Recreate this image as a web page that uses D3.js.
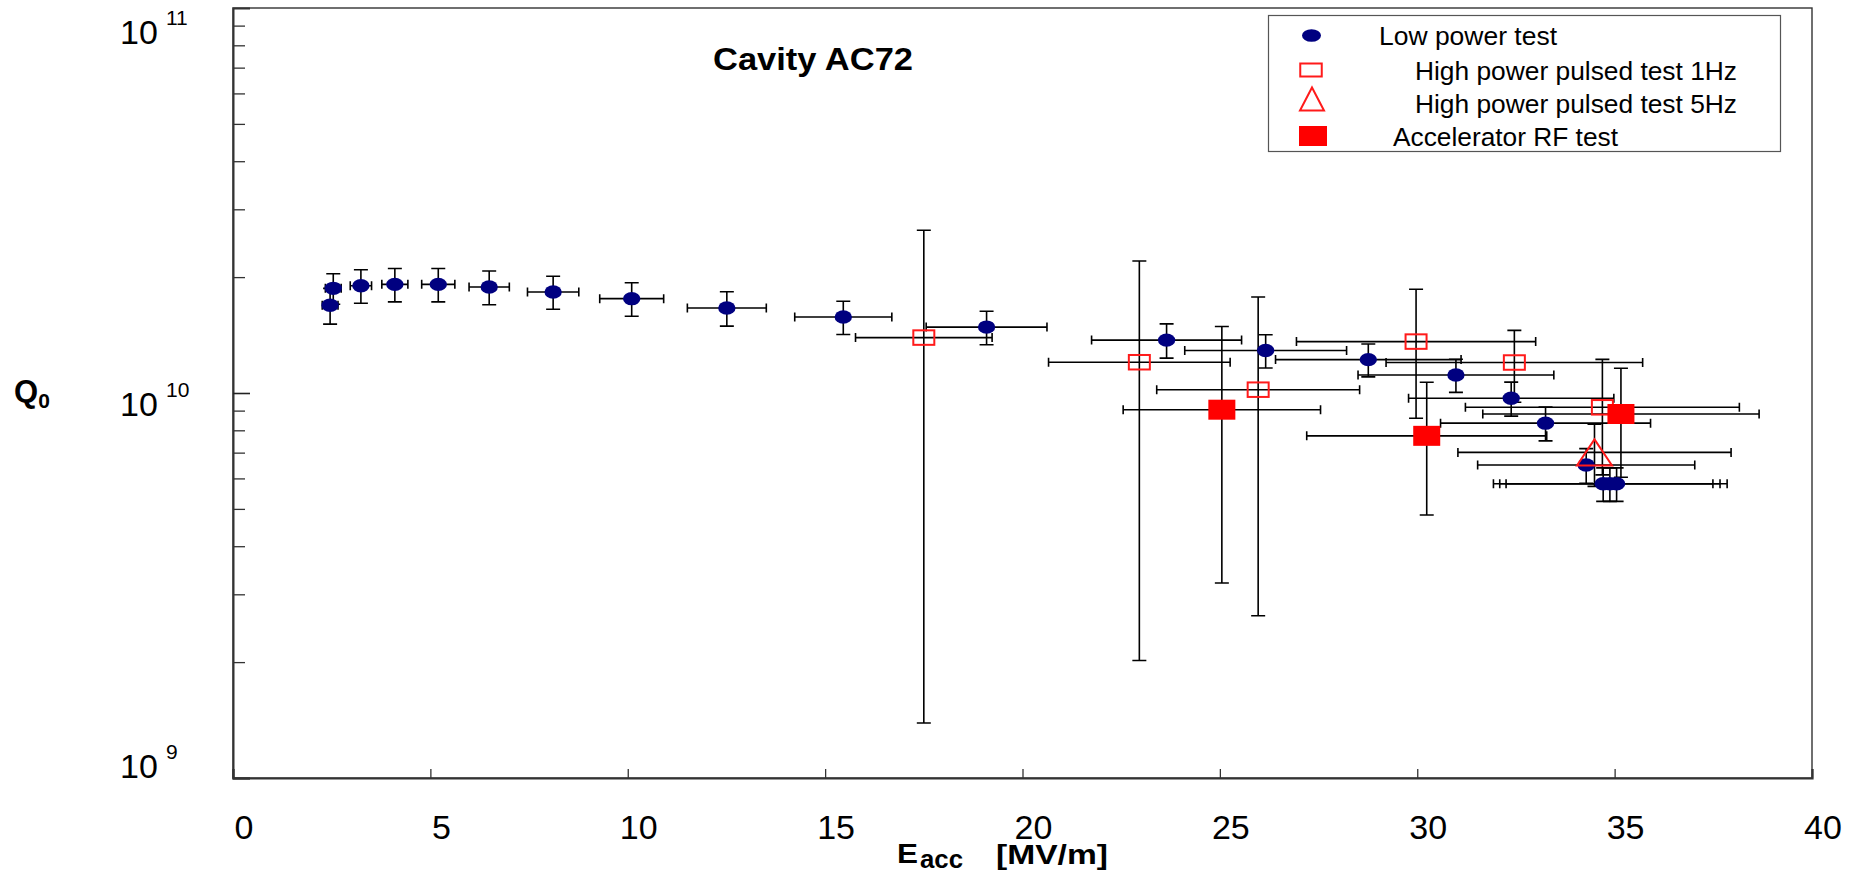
<!DOCTYPE html>
<html>
<head>
<meta charset="utf-8">
<script src="https://cdn.jsdelivr.net/npm/d3@7"></script>
<style>
  body { margin: 0; background: #fff; }
  text { font-family: "Liberation Sans", Arial, sans-serif; }
</style>
</head>
<body>
<div id="chart"></div>
<script>
// Low power test (filled navy ellipses)
var lowE    = [2.46, 2.54, 3.24, 4.10, 5.20, 6.49, 8.11, 10.10, 12.51, 15.46, 19.09, 23.65, 26.16, 28.76, 30.98, 32.38, 33.25, 34.28, 34.71, 34.88, 35.05];
var lowQ    = [1.69e10, 1.87e10, 1.90e10, 1.915e10, 1.915e10, 1.885e10, 1.83e10, 1.758e10, 1.662e10, 1.575e10, 1.483e10, 1.372e10, 1.289e10, 1.221e10, 1.114e10, 9.69e9, 8.35e9, 6.5e9, 5.81e9, 5.81e9, 5.81e9];
var lowEerr = [0.20, 0.20, 0.27, 0.33, 0.42, 0.51, 0.65, 0.81, 1.00, 1.23, 1.53, 1.90, 2.05, 2.35, 2.48, 2.60, 2.66, 2.75, 2.78, 2.79, 2.80];
var lowQerr = [0.18e10, 0.17e10, 0.19e10, 0.19e10, 0.19e10, 0.19e10, 0.18e10, 0.176e10, 0.17e10, 0.156e10, 0.148e10, 0.14e10, 0.128e10, 0.12e10, 0.11e10, 0.098e10, 0.084e10, 0.067e10, 0.058e10, 0.058e10, 0.058e10];

// High power pulsed test 1Hz (open squares)
var hz1E    = [17.50, 22.96, 25.97, 29.97, 32.46, 34.69];
var hz1Q    = [1.393e10, 1.202e10, 1.02e10, 1.36e10, 1.20e10, 9.18e9];
var hz1Eerr = [1.73, 2.30, 2.57, 3.03, 3.25, 3.47];
var hz1Qerr = [1.254e10, 1.0e10, 0.756e10, 0.50e10, 0.254e10, 0.305e10];

// High power pulsed test 5Hz (open triangle)
var hz5E    = [34.49];
var hz5Q    = [7.01e9];
var hz5Eerr = [3.46];
var hz5Qerr = [1.29e9];

// Accelerator RF test (filled red squares)
var accE    = [25.05, 30.24, 35.16];
var accQ    = [9.05e9, 7.74e9, 8.82e9];
var accEerr = [2.50, 3.04, 3.50];
var accQerr = [5.84e9, 2.92e9, 2.78e9];

var xTicks = [0, 5, 10, 15, 20, 25, 30, 35, 40];
var yMajor = [1e9, 1e10, 1e11];
var yExp   = ["9", "10", "11"];
var legendLabels = ["Low power test", "High power pulsed test 1Hz", "High power pulsed test 5Hz", "Accelerator RF test"];

var width = 1855, height = 873;

var svg = d3.select("#chart").append("svg")
    .attr("width", width)
    .attr("height", height);

var x = d3.scaleLinear().domain([0, 40]).range([233, 1812]);
var y = d3.scaleLog().domain([1e9, 1e11]).range([778, 8]);

function zip(E, Q, dE, dQ) {
  return E.map(function(e, i) { return { e: e, q: Q[i], de: dE[i], dq: dQ[i] }; });
}
var low = zip(lowE, lowQ, lowEerr, lowQerr),
    hz1 = zip(hz1E, hz1Q, hz1Eerr, hz1Qerr),
    hz5 = zip(hz5E, hz5Q, hz5Eerr, hz5Qerr),
    acc = zip(accE, accQ, accEerr, accQerr);

// frame
svg.append("rect")
    .attr("x", x(0)).attr("y", y(1e11))
    .attr("width", x(40) - x(0)).attr("height", y(1e9) - y(1e11))
    .attr("fill", "none").attr("stroke", "#333").attr("stroke-width", 1.4);

// y axis: minor then major ticks, pointing inward
var minor = [];
[1e9, 1e10].forEach(function(d) { for (var k = 2; k <= 9; k++) minor.push(d * k); });

svg.append("g")
    .attr("transform", "translate(" + x(0) + ",0)")
    .call(d3.axisLeft(y).tickValues(minor).tickSize(-12).tickFormat(""))
    .call(function(g) { g.select(".domain").remove(); })
    .selectAll("line").attr("stroke", "#333").attr("stroke-width", 1.3);

svg.append("g")
    .attr("transform", "translate(" + x(0) + ",0)")
    .call(d3.axisLeft(y).tickValues([1e9, 1e10]).tickSize(-17).tickFormat(""))
    .call(function(g) { g.select(".domain").attr("stroke", "#333").attr("stroke-width", 2); })
    .selectAll("line").attr("stroke", "#222").attr("stroke-width", 1.6);

// y labels (10 + superscript)
var yShift = [0, 23, 36];
yMajor.forEach(function(v, i) {
  var yy = y(v) + yShift[i];
  svg.append("text").attr("x", 120).attr("y", yy)
      .attr("font-size", 34).attr("fill", "#000").text("10");
  svg.append("text").attr("x", 166).attr("y", yy - 19)
      .attr("font-size", 21).attr("fill", "#000").text(yExp[i]);
});

// x axis
svg.append("g")
    .attr("transform", "translate(0," + y(1e9) + ")")
    .call(d3.axisBottom(x).tickValues(xTicks).tickSize(-9).tickFormat(""))
    .call(function(g) { g.select(".domain").attr("stroke", "#333").attr("stroke-width", 2.2); })
    .selectAll("line").attr("stroke", "#333").attr("stroke-width", 1.3);

svg.append("g").selectAll("text")
    .data(xTicks).enter().append("text")
    .attr("x", function(d) { return x(d) + 11; })
    .attr("y", 839)
    .attr("text-anchor", "middle")
    .attr("font-size", 34)
    .text(function(d) { return d; });

// axis titles
var q0 = svg.append("text").attr("x", 14).attr("y", 402)
    .attr("font-size", 31).attr("font-weight", "bold");
q0.append("tspan").text("Q");
q0.append("tspan").attr("font-size", 21).attr("dy", 6).text("0");

svg.append("text").attr("x", 897).attr("y", 863)
    .attr("font-size", 27).attr("font-weight", "bold")
    .attr("textLength", 21).attr("lengthAdjust", "spacingAndGlyphs").text("E");
svg.append("text").attr("x", 920).attr("y", 868)
    .attr("font-size", 26).attr("font-weight", "bold")
    .attr("textLength", 43).attr("lengthAdjust", "spacingAndGlyphs").text("acc");
svg.append("text").attr("x", 996).attr("y", 864)
    .attr("font-size", 27).attr("font-weight", "bold")
    .attr("textLength", 112).attr("lengthAdjust", "spacingAndGlyphs").text("[MV/m]");

// chart title
svg.append("text").attr("x", 713).attr("y", 70)
    .attr("font-size", 31).attr("font-weight", "bold")
    .attr("textLength", 200).attr("lengthAdjust", "spacingAndGlyphs")
    .text("Cavity AC72");

// error bars
var bars = svg.append("g").attr("stroke", "#000").attr("stroke-width", 1.6).attr("fill", "none");
function errorBars(data) {
  data.forEach(function(d) {
    var cx = x(d.e), cy = y(d.q);
    var x0 = x(d.e - d.de), x1 = x(d.e + d.de);
    var y0 = y(d.q - d.dq), y1 = y(d.q + d.dq);
    bars.append("path").attr("d",
      "M" + x0 + "," + cy + "H" + x1 +
      "M" + x0 + "," + (cy - 4.5) + "V" + (cy + 4.5) +
      "M" + x1 + "," + (cy - 4.5) + "V" + (cy + 4.5) +
      "M" + cx + "," + y0 + "V" + y1 +
      "M" + (cx - 7) + "," + y0 + "H" + (cx + 7) +
      "M" + (cx - 7) + "," + y1 + "H" + (cx + 7));
  });
}
errorBars(low);
errorBars(hz1);
errorBars(hz5);
errorBars(acc);

// markers
function ellipse(g, cx, cy, rx, ry) {
  g.append("ellipse").attr("cx", cx).attr("cy", cy).attr("rx", rx).attr("ry", ry).attr("fill", "#000080");
}
function openSquare(g, cx, cy, w, h) {
  g.append("rect").attr("x", cx - w / 2).attr("y", cy - h / 2).attr("width", w).attr("height", h)
      .attr("fill", "none").attr("stroke", "#ff1a1a").attr("stroke-width", 2);
}
function triangle(g, cx, cy, w, h) {
  g.append("path").attr("d", "M" + cx + "," + (cy - h / 2) + "L" + (cx + w / 2) + "," + (cy + h / 2) + "L" + (cx - w / 2) + "," + (cy + h / 2) + "Z")
      .attr("fill", "none").attr("stroke", "#ff1a1a").attr("stroke-width", 2);
}
function fillSquare(g, cx, cy, w, h) {
  g.append("rect").attr("x", cx - w / 2).attr("y", cy - h / 2).attr("width", w).attr("height", h).attr("fill", "#ff0000");
}

var marks = svg.append("g");
low.forEach(function(d) { ellipse(marks, x(d.e), y(d.q), 8.7, 6.7); });
hz1.forEach(function(d) { openSquare(marks, x(d.e), y(d.q), 21, 14.5); });
hz5.forEach(function(d) { triangle(marks, x(d.e), y(d.q), 35, 26); });
acc.forEach(function(d) { fillSquare(marks, x(d.e), y(d.q), 27, 20); });

// legend
var lg = svg.append("g");
lg.append("rect").attr("x", 1268.5).attr("y", 15.5).attr("width", 512).attr("height", 136)
    .attr("fill", "#fff").attr("stroke", "#555").attr("stroke-width", 1.2);
var rowY = [35.5, 70, 99, 136], textX = [1379, 1415, 1415, 1393], textY = [45, 80, 113, 146],
    textLen = [178, 322, 322, 225];
ellipse(lg, 1311.5, rowY[0], 9.5, 6.3);
openSquare(lg, 1311, rowY[1], 21.5, 13);
triangle(lg, 1312, rowY[2], 24, 23);
fillSquare(lg, 1313, rowY[3], 28, 20);
legendLabels.forEach(function(t, i) {
  lg.append("text").attr("x", textX[i]).attr("y", textY[i]).attr("font-size", 25)
      .attr("textLength", textLen[i]).attr("lengthAdjust", "spacingAndGlyphs").text(t);
});
</script>
</body>
</html>
